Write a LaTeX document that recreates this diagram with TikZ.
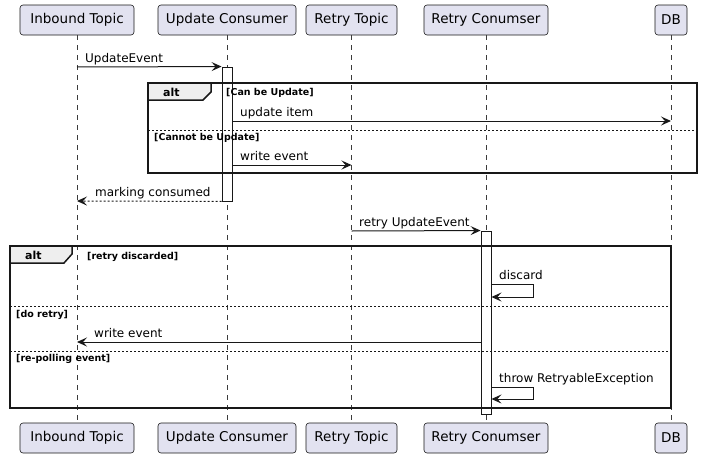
\documentclass[tikz,border=0pt]{standalone}
\usepackage{fontspec}
\setmainfont{DejaVu Sans}
\usetikzlibrary{arrows.meta}
\definecolor{partfill}{HTML}{E2E2F0}
\definecolor{linec}{HTML}{181818}
\definecolor{tabfill}{HTML}{EEEEEE}
\begin{document}
\begin{tikzpicture}[x=1pt,y=-1pt,
  part/.style={draw=linec, fill=partfill, rounded corners=3pt, minimum height=30pt, inner sep=0pt, line width=0.6pt, font=\fontsize{13.5}{16}\selectfont},
  life/.style={draw=linec!85, dash pattern=on 5pt off 5pt, line width=0.5pt},
  act/.style={draw=linec, fill=white, minimum width=10pt, inner sep=0pt, line width=0.9pt},
  frm/.style={draw=linec, line width=1.5pt},
  tabbox/.style={draw=linec, fill=tabfill, line width=1.5pt, line join=miter},
  sep/.style={draw=linec, dash pattern=on 2pt off 2pt, line width=0.6pt},
  msg/.style={draw=linec, line width=1pt, -{Stealth[length=10pt,width=9pt,inset=4pt]}},
  ret/.style={msg, dash pattern=on 2pt off 2pt},
  lbl/.style={anchor=base west, inner sep=0pt, font=\fontsize{12}{14}\selectfont},
  guard/.style={anchor=base west, inner sep=0pt, font=\bfseries\fontsize{9.5}{11}\selectfont},
  alttxt/.style={anchor=base west, inner sep=0pt, font=\bfseries\fontsize{11}{13}\selectfont}
]
\useasboundingbox (0,0) rectangle (702,458);

% participants
\node[part, minimum width=114pt] (it) at (77,20) {Inbound Topic};
\node[part, minimum width=138pt] (uc) at (227,20) {Update Consumer};
\node[part, minimum width=91pt] (rt) at (351.5,20) {Retry Topic};
\node[part, minimum width=124pt] (rc) at (486,20) {Retry Conumser};
\node[part, minimum width=32pt] (db) at (671,20) {DB};
\node[part, minimum width=114pt] (itb) at (77,438) {Inbound Topic};
\node[part, minimum width=138pt] (ucb) at (227,438) {Update Consumer};
\node[part, minimum width=91pt] (rtb) at (351.5,438) {Retry Topic};
\node[part, minimum width=124pt] (rcb) at (486,438) {Retry Conumser};
\node[part, minimum width=32pt] (dbb) at (671,438) {DB};

% lifelines
\draw[life] (it.south) -- (itb.north);
\draw[life] (uc.south) -- (ucb.north);
\draw[life] (rt.south) -- (rtb.north);
\draw[life] (rc.south) -- (rcb.north);
\draw[life] (db.south) -- (dbb.north);

% activations
\node[act, minimum height=134pt] (a1) at (227,134) {};
\node[act, minimum height=183pt] (a2) at (486,322.5) {};

% frame 1
\draw[frm] (148,83) rectangle (697,173);
\draw[tabbox] (148,83) -- (211,83) -- (211,92) -- (203,100) -- (148,100) -- cycle;
\draw[sep] (148,130) -- (697,130);
\node[alttxt] (alt1) at (163,96) {alt};
\node[guard] (g1) at (226,95) {[Can be Update]};
\node[guard] (g2) at (154,140) {[Cannot be Update]};

% frame 2
\draw[frm] (10,246) rectangle (671,408);
\draw[tabbox] (10,246) -- (72,246) -- (72,254) -- (64,263) -- (10,263) -- cycle;
\draw[sep] (10,306) -- (671,306);
\draw[sep] (10,351) -- (671,351);
\node[alttxt] (alt2) at (25,259) {alt};
\node[guard] (g3) at (87,259) {[retry discarded]};
\node[guard] (g4) at (16,317) {[do retry]};
\node[guard] (g5) at (16,361) {[re-polling event]};

% messages
\draw[msg] (it.south |- 0,67) -- (a1.north west);
\node[lbl] (l1) at (85,62.5) {UpdateEvent};

\draw[msg] (a1.east |- 0,121) -- (db.south |- 0,121);
\node[lbl] (l2) at (240,116.5) {update item};

\draw[msg] (a1.east |- 0,165) -- (rt.south |- 0,165);
\node[lbl] (l3) at (240,160.5) {write event};

\draw[ret] (a1.south west) -- (it.south |- 0,201);
\node[lbl] (l4) at (95,196.5) {marking consumed};

\draw[msg] (rt.south |- 0,231) -- (a2.north west);
\node[lbl] (l5) at (359,226.5) {retry UpdateEvent};

\draw[msg] (a2.east |- 0,284) -- ++(42,0) -- ++(0,13) -- (a2.east |- 0,297);
\node[lbl] (l6) at (499,279.5) {discard};

\draw[msg] (a2.west |- 0,342) -- (it.south |- 0,342);
\node[lbl] (l7) at (94,337.5) {write event};

\draw[msg] (a2.east |- 0,387) -- ++(42,0) -- ++(0,12) -- (a2.east |- 0,399);
\node[lbl] (l8) at (499,382.5) {throw RetryableException};
\end{tikzpicture}
\end{document}
